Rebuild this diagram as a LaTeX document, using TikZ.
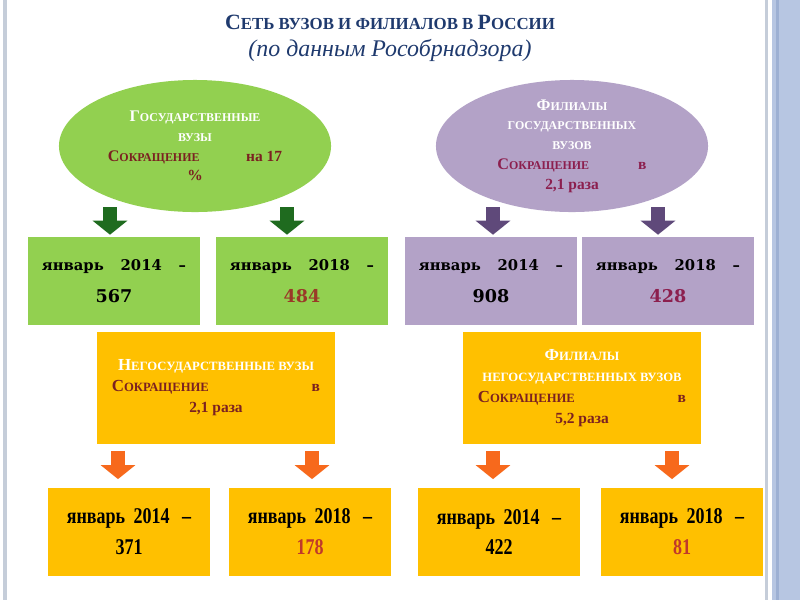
\documentclass[tikz,border=0pt]{standalone}
\usepackage{fontspec}
\setmainfont{Liberation Serif}
\newfontfamily\schoolfont{DejaVu Serif}
\newfontfamily\narrowfont[FakeStretch=0.8]{Liberation Serif}
\usetikzlibrary{arrows.meta,calc,positioning,shapes.geometric}
\definecolor{VZGreen}{HTML}{92D050}
\definecolor{VZGreenDark}{HTML}{1F6B1F}
\definecolor{VZLilac}{HTML}{B3A2C7}
\definecolor{VZLilacDark}{HTML}{5F497A}
\definecolor{VZGold}{HTML}{FFC000}
\definecolor{VZOrange}{HTML}{F7691C}
\definecolor{VZNavy}{HTML}{1F3A6E}
\definecolor{VZBrown}{HTML}{7B2121}
\definecolor{VZPlum}{HTML}{8C1F4E}
\definecolor{VZRust}{HTML}{9A3A28}
\definecolor{VZRed}{HTML}{C0392B}
\definecolor{VZBand}{HTML}{B7C6E2}
\definecolor{VZBandLine}{HTML}{9DB0D3}
\definecolor{VZEdge}{HTML}{C5CDD9}
\newcommand\scbig[2][11.5]{{\fontsize{#1}{14}\selectfont #2}}
\newcommand\scsmall[2][8.5]{{\fontsize{#1}{14}\selectfont #2}}
\newcommand\boxnum[1]{{\fontsize{12.5}{23}\selectfont #1}}

\begin{document}
\begin{tikzpicture}[
      x=0.025cm,y=-0.025cm,
      bigoval/.style={ellipse,inner sep=0pt,minimum width=6.8cm,
        minimum height=3.3cm,align=center,
        font=\bfseries\fontsize{11}{14}\selectfont},
      goldbox/.style={rectangle,fill=VZGold,inner sep=0pt,minimum width=5.95cm,
        minimum height=2.78cm,align=center,
        font=\bfseries\fontsize{11}{15}\selectfont},
      yearbox/.style={rectangle,inner sep=0pt,minimum width=4.28cm,
        minimum height=2.2cm,align=center,
        font=\schoolfont\bfseries\fontsize{10.5}{23}\selectfont},
      lowbox/.style={rectangle,fill=VZGold,inner sep=0pt,minimum width=4.05cm,
        minimum height=2.18cm,align=center,
        font=\narrowfont\bfseries\fontsize{16}{22}\selectfont},
      blockarrow/.style={-{Triangle[length=0.35cm,width=0.85cm]},
        line width=0.35cm},
      garrow/.style={blockarrow,color=VZGreenDark,
        shorten <=-0.125cm,shorten >=0.05cm},
      parrow/.style={blockarrow,color=VZLilacDark,
        shorten <=-0.125cm,shorten >=0.05cm},
      oarrow/.style={blockarrow,color=VZOrange,
        shorten <=0.175cm,shorten >=0.225cm}
    ]
      \useasboundingbox (0,0) rectangle (800,600);
      \fill[white] (0,0) rectangle (800,600);
      % slide frame
      \fill[VZEdge] (3,0) rectangle (7,600);
      \fill[VZEdge] (765,0) rectangle (768,600);
      \fill[VZBand] (772,0) rectangle (800,600);
      \fill[VZBandLine] (776,0) rectangle (779,600);

      \node[text=VZNavy,font=\bfseries] (title) at (390,22)
        {\scbig[15.5]{С}\scsmall[12]{ЕТЬ ВУЗОВ И ФИЛИАЛОВ В }\scbig[15.5]{Р}\scsmall[12]{ОССИИ}};
      \node[text=VZNavy,font=\itshape\fontsize{17}{20}\selectfont] (subtitle)
        at (390,50) {(по данным Рособрнадзора)};

      % state universities and their branches
      \node[bigoval,fill=VZGreen] (gos) at (195,146)
        {\textcolor{white}{\scbig{Г}\scsmall{ОСУДАРСТВЕННЫЕ}}\\
         \textcolor{white}{\scsmall{ВУЗЫ}}\\
         \textcolor{VZBrown}{\makebox[124pt]{\scbig{С}\scsmall{ОКРАЩЕНИЕ}\hfill на 17}}\\
         \textcolor{VZBrown}{\%}};
      \node[bigoval,fill=VZLilac] (fil) at (572,146)
        {\textcolor{white}{\scbig{Ф}\scsmall{ИЛИАЛЫ}}\\
         \textcolor{white}{\scsmall{ГОСУДАРСТВЕННЫХ}}\\
         \textcolor{white}{\scsmall{ВУЗОВ}}\\
         \textcolor{VZPlum}{\makebox[106pt]{\scbig{С}\scsmall{ОКРАЩЕНИЕ}\hfill в}}\\
         \textcolor{VZPlum}{2,1 раза}};

      \node[yearbox,fill=VZGreen] (g14) at (114,281)
        {январь\hspace{12pt}2014\hspace{12pt}–\\\boxnum{567}};
      \node[yearbox,fill=VZGreen] (g18) at (302,281)
        {январь\hspace{12pt}2018\hspace{12pt}–\\\boxnum{\textcolor{VZRust}{484}}};
      \node[yearbox,fill=VZLilac] (p14) at (491,281)
        {январь\hspace{12pt}2014\hspace{12pt}–\\\boxnum{908}};
      \node[yearbox,fill=VZLilac] (p18) at (668,281)
        {январь\hspace{12pt}2018\hspace{12pt}–\\\boxnum{\textcolor{VZPlum}{428}}};

      \draw[garrow] ([xshift=-0.1cm]g14.north |- gos.south) -- ([xshift=-0.1cm]g14.north);
      \draw[garrow] ([xshift=-0.375cm]g18.north |- gos.south) -- ([xshift=-0.375cm]g18.north);
      \draw[parrow] ([xshift=0.05cm]p14.north |- fil.south) -- ([xshift=0.05cm]p14.north);
      \draw[parrow] ([xshift=-0.25cm]p18.north |- fil.south) -- ([xshift=-0.25cm]p18.north);

      % non-state universities and their branches
      \node[goldbox] (ngos) at (216,388)
        {\textcolor{white}{\scbig[12]{Н}\scsmall[9]{ЕГОСУДАРСТВЕННЫЕ ВУЗЫ}}\\
         \textcolor{VZBrown}{\makebox[148pt]{\scbig[12]{С}\scsmall[9]{ОКРАЩЕНИЕ}\hfill в}}\\
         \textcolor{VZBrown}{2,1 раза}};
      \node[goldbox] (nfil) at (582,388)
        {\textcolor{white}{\scbig[12]{Ф}\scsmall[9]{ИЛИАЛЫ}}\\
         \textcolor{white}{\scsmall[9]{НЕГОСУДАРСТВЕННЫХ ВУЗОВ}}\\
         \textcolor{VZBrown}{\makebox[148pt]{\scbig[12]{С}\scsmall[9]{ОКРАЩЕНИЕ}\hfill в}}\\
         \textcolor{VZBrown}{5,2 раза}};

      \node[lowbox] (n14) at (129,532)
        {январь\hspace{6pt}2014\hspace{9pt}–\\371};
      \node[lowbox] (n18) at (310,532)
        {январь\hspace{6pt}2018\hspace{9pt}–\\\textcolor{VZRed}{178}};
      \node[lowbox] (f14) at (499,532)
        {январь\hspace{6pt}2014\hspace{9pt}–\\422};
      \node[lowbox] (f18) at (682,532)
        {январь\hspace{6pt}2018\hspace{9pt}–\\\textcolor{VZRed}{81}};

      \draw[oarrow] ([xshift=-0.275cm]n14.north |- ngos.south) -- ([xshift=-0.275cm]n14.north);
      \draw[oarrow] ([xshift=0.05cm]n18.north |- ngos.south) -- ([xshift=0.05cm]n18.north);
      \draw[oarrow] ([xshift=-0.15cm]f14.north |- nfil.south) -- ([xshift=-0.15cm]f14.north);
      \draw[oarrow] ([xshift=-0.25cm]f18.north |- nfil.south) -- ([xshift=-0.25cm]f18.north);
    \end{tikzpicture}
\end{document}
